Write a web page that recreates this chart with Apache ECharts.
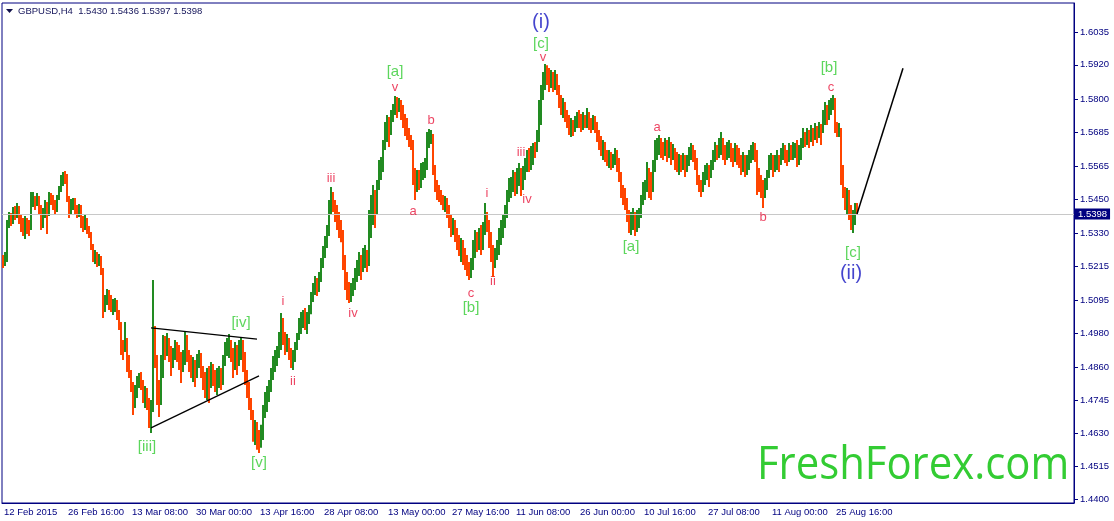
<!DOCTYPE html>
<html><head><meta charset="utf-8">
<script src="https://cdn.jsdelivr.net/npm/echarts@6/dist/echarts.min.js"></script>
<style>html,body{margin:0;padding:0;background:#fff;}#c{width:1114px;height:521px;}</style>
</head><body><div id="c"></div>
<script>
// ---- DATA (prices in 1/10000 units, H4 bars, two source bars per drawn bar) ----
const symbolName = 'GBPUSD,H4';
const headerValues = ['1.5430', '1.5436', '1.5397', '1.5398'];
const xTickLabels = ['12 Feb 2015', '26 Feb 16:00', '13 Mar 08:00', '30 Mar 00:00', '13 Apr 16:00', '28 Apr 08:00', '13 May 00:00', '27 May 16:00', '11 Jun 08:00', '26 Jun 00:00', '10 Jul 16:00', '27 Jul 08:00', '11 Aug 00:00', '25 Aug 16:00'];
const yTickValues = [1.4400, 1.4515, 1.4630, 1.4745, 1.4860, 1.4980, 1.5095, 1.5215, 1.5330, 1.5450, 1.5565, 1.5685, 1.5800, 1.5920, 1.6035];
const lastPrice = 1.5398;

const opens = [
15240,15230,15244,15359,15384,15370,15405,15394,15419,15377,
15359,15342,15370,15356,15349,15447,15454,15433,15454,15419,
15370,15398,15429,15394,15461,15447,15429,15412,15454,15482,
15517,15531,15524,15454,15401,15429,15447,15412,15394,15419,
15377,15352,15377,15349,15324,15289,15244,15254,15230,15244,
15209,15079,15097,15125,15104,15079,15083,15097,15055,15020,
14939,14922,14957,14880,14845,14799,14729,14771,14810,14824,
14803,14754,14775,14733,14677,14712,14957,14887,14764,14747,
14834,14939,14922,14950,14915,14880,14901,14939,14915,14887,
14859,14887,14957,14904,14880,14852,14869,14845,14880,14904,
14852,14817,14789,14834,14810,14852,14824,14799,14824,14845,
14817,14880,14922,14939,14957,14904,14869,14922,14880,14929,
14939,14894,14834,14799,14747,14705,14635,14649,14607,14593,
14642,14694,14740,14754,14789,14834,14859,14887,14915,14939,
14992,14964,14939,14957,14922,14880,14894,14929,14957,14992,
15020,15034,15009,15027,15055,15097,15132,15160,15146,15167,
15219,15254,15289,15335,15412,15464,15429,15405,15377,15356,
15324,15230,15174,15139,15118,15132,15149,15174,15202,15230,
15209,15244,15254,15230,15342,15394,15447,15412,15482,15534,
15559,15622,15674,15699,15685,15734,15755,15779,15769,15790,
15755,15734,15709,15685,15657,15639,15552,15482,15524,15510,
15545,15552,15559,15639,15664,15671,15559,15499,15482,15475,
15454,15436,15447,15412,15377,15349,15359,15324,15307,15279,
15289,15254,15230,15209,15195,15219,15265,15307,15289,15324,
15289,15335,15394,15359,15314,15272,15230,15254,15272,15307,
15342,15370,15394,15447,15482,15499,15517,15489,15524,15552,
15510,15534,15569,15594,15569,15604,15629,15622,15657,15734,
15814,15860,15902,15884,15867,15881,15849,15874,15839,15797,
15769,15779,15744,15720,15699,15709,15692,15720,15734,15727,
15709,15734,15720,15744,15720,15699,15727,15706,15674,15650,
15629,15639,15604,15594,15604,15580,15587,15615,15580,15534,
15482,15464,15447,15394,15359,15370,15384,15349,15377,15394,
15429,15475,15499,15534,15517,15499,15552,15622,15639,15650,
15629,15622,15639,15615,15629,15604,15622,15594,15580,15587,
15569,15587,15559,15580,15604,15629,15604,15580,15524,15499,
15489,15517,15534,15552,15534,15559,15594,15622,15615,15639,
15657,15622,15604,15622,15639,15604,15594,15622,15604,15587,
15569,15587,15559,15580,15594,15615,15629,15604,15545,15517,
15489,15475,15499,15524,15569,15587,15559,15580,15594,15569,
15604,15622,15604,15594,15622,15604,15615,15629,15587,15615,
15639,15664,15657,15674,15657,15685,15664,15692,15674,15699,
15685,15727,15762,15744,15769,15779,15797,15709,15692,15699,
15569,15475,15447,15464,15405,15370,15384,15430
];
const highs = [
15254,15265,15377,15405,15401,15422,15426,15436,15426,15398,
15384,15391,15384,15377,15475,15475,15461,15471,15461,15429,
15419,15447,15440,15475,15471,15464,15447,15464,15496,15534,
15545,15548,15538,15461,15450,15454,15454,15429,15433,15429,
15391,15394,15384,15356,15335,15293,15272,15265,15258,15251,
15184,15114,15135,15132,15114,15100,15104,15097,15062,15009,
14957,15020,14964,14904,14852,14810,14799,14831,14841,14845,
14817,14796,14789,14754,14747,15167,15006,14904,14817,14904,
14974,14971,14981,14964,14936,14929,14957,14950,14939,14915,
14922,14988,14974,14922,14904,14897,14887,14908,14922,14911,
14866,14845,14859,14866,14880,14873,14852,14859,14866,14859,
14904,14950,14964,14978,14957,14929,14950,14939,14957,14967,
14957,14915,14852,14810,14754,14712,14677,14670,14642,14660,
14729,14775,14796,14817,14859,14901,14922,14936,14985,15051,
15034,14985,14978,14964,14929,14922,14950,14981,15034,15055,
15062,15069,15055,15079,15125,15156,15181,15174,15195,15244,
15286,15321,15359,15447,15492,15475,15447,15429,15405,15377,
15342,15254,15195,15160,15156,15174,15209,15237,15265,15254,
15279,15289,15272,15412,15464,15499,15482,15517,15587,15597,
15657,15720,15744,15737,15762,15783,15811,15807,15804,15797,
15779,15748,15734,15699,15674,15657,15559,15552,15552,15576,
15580,15594,15685,15695,15692,15678,15569,15517,15499,15482,
15464,15461,15454,15429,15394,15384,15377,15349,15324,15314,
15307,15279,15254,15230,15244,15307,15342,15335,15349,15359,
15370,15436,15405,15377,15335,15289,15279,15307,15349,15377,
15394,15429,15482,15524,15527,15552,15545,15559,15576,15559,
15566,15594,15622,15629,15636,15646,15650,15692,15797,15849,
15895,15923,15919,15909,15902,15895,15902,15888,15849,15814,
15804,15790,15762,15744,15734,15727,15741,15755,15762,15748,
15755,15744,15769,15755,15734,15744,15741,15720,15692,15671,
15657,15650,15622,15622,15615,15608,15629,15622,15594,15545,
15499,15489,15454,15412,15405,15419,15405,15412,15419,15464,
15510,15517,15580,15559,15545,15587,15657,15664,15674,15664,
15650,15664,15657,15667,15650,15643,15629,15615,15608,15604,
15611,15604,15604,15632,15646,15639,15622,15594,15534,15517,
15545,15569,15576,15569,15587,15622,15650,15639,15664,15685,
15664,15639,15650,15657,15646,15629,15646,15639,15629,15604,
15615,15604,15604,15622,15639,15650,15646,15622,15559,15534,
15517,15524,15552,15604,15611,15604,15604,15622,15604,15629,
15646,15639,15622,15646,15639,15650,15646,15657,15639,15664,
15699,15685,15699,15692,15709,15699,15716,15706,15720,15713,
15762,15790,15779,15797,15804,15814,15804,15720,15716,15692,
15569,15492,15489,15482,15429,15412,15436,15436
];
const lows = [
15209,15216,15230,15349,15356,15363,15377,15384,15363,15335,
15321,15310,15328,15321,15342,15422,15412,15426,15398,15342,
15349,15384,15328,15391,15429,15412,15394,15405,15447,15475,
15496,15503,15440,15384,15394,15412,15394,15384,15387,15349,
15335,15342,15328,15314,15272,15230,15223,15212,15216,15184,
15034,15055,15079,15062,15055,15044,15055,15027,14992,14904,
14887,14915,14845,14824,14775,14694,14719,14754,14789,14782,
14736,14719,14712,14649,14631,14705,14859,14729,14687,14729,
14824,14887,14901,14880,14831,14859,14887,14880,14852,14806,
14845,14869,14880,14845,14824,14810,14792,14824,14859,14824,
14782,14754,14747,14736,14789,14796,14775,14764,14789,14782,
14799,14866,14901,14894,14880,14824,14852,14834,14866,14887,
14845,14799,14754,14712,14677,14600,14589,14572,14561,14579,
14607,14684,14705,14740,14775,14817,14845,14866,14894,14922,
14939,14904,14915,14887,14859,14852,14880,14922,14957,14978,
14999,14992,14978,15013,15047,15090,15114,15111,15125,15160,
15209,15244,15279,15321,15394,15405,15370,15342,15314,15299,
15202,15132,15097,15086,15090,15111,15132,15160,15181,15167,
15195,15209,15195,15216,15314,15359,15349,15394,15510,15517,
15545,15622,15650,15632,15674,15720,15744,15734,15755,15727,
15699,15671,15657,15632,15622,15499,15447,15475,15482,15489,
15517,15524,15552,15629,15643,15534,15475,15447,15440,15429,
15412,15405,15384,15349,15317,15324,15300,15272,15251,15230,
15219,15202,15181,15167,15174,15202,15244,15265,15272,15254,
15272,15324,15335,15279,15230,15177,15209,15237,15254,15289,
15314,15349,15384,15440,15454,15475,15461,15468,15496,15461,
15482,15517,15545,15545,15552,15569,15594,15615,15650,15709,
15797,15832,15849,15825,15839,15825,15832,15814,15769,15744,
15734,15720,15699,15674,15667,15671,15685,15699,15699,15685,
15692,15699,15699,15692,15681,15692,15681,15650,15622,15601,
15587,15580,15566,15559,15552,15559,15569,15545,15510,15454,
15429,15412,15370,15331,15324,15342,15321,15335,15349,15384,
15429,15447,15475,15454,15447,15475,15545,15587,15604,15594,
15587,15601,15580,15594,15569,15587,15552,15545,15534,15545,
15552,15527,15545,15566,15587,15580,15552,15499,15475,15457,
15475,15499,15517,15492,15524,15552,15580,15587,15594,15604,
15587,15569,15587,15594,15580,15562,15580,15569,15559,15534,
15545,15527,15534,15552,15576,15587,15580,15464,15475,15454,
15419,15454,15482,15534,15552,15527,15545,15552,15545,15569,
15587,15576,15566,15580,15587,15587,15594,15562,15569,15587,
15629,15632,15639,15629,15650,15636,15657,15646,15664,15639,
15681,15709,15709,15727,15744,15762,15681,15667,15667,15499,
15454,15412,15394,15377,15342,15331,15359,15397
];
const closes = [
15230,15244,15359,15384,15370,15405,15394,15419,15377,15359,
15342,15370,15356,15349,15447,15454,15433,15454,15419,15370,
15398,15429,15394,15461,15447,15429,15412,15454,15482,15517,
15531,15524,15454,15401,15429,15447,15412,15394,15419,15377,
15352,15377,15349,15324,15289,15244,15254,15230,15244,15209,
15079,15097,15125,15104,15079,15083,15097,15055,15020,14939,
14922,14957,14880,14845,14799,14729,14771,14810,14824,14803,
14754,14775,14733,14677,14712,14957,14887,14764,14747,14834,
14939,14922,14950,14915,14880,14901,14939,14915,14887,14859,
14887,14957,14904,14880,14852,14869,14845,14880,14904,14852,
14817,14789,14834,14810,14852,14824,14799,14824,14845,14817,
14880,14922,14939,14957,14904,14869,14922,14880,14929,14939,
14894,14834,14799,14747,14705,14635,14649,14607,14593,14642,
14694,14740,14754,14789,14834,14859,14887,14915,14939,14992,
14964,14939,14957,14922,14880,14894,14929,14957,14992,15020,
15034,15009,15027,15055,15097,15132,15160,15146,15167,15219,
15254,15289,15335,15412,15464,15429,15405,15377,15356,15324,
15230,15174,15139,15118,15132,15149,15174,15202,15230,15209,
15244,15254,15230,15342,15394,15447,15412,15482,15534,15559,
15622,15674,15699,15685,15734,15755,15779,15769,15790,15755,
15734,15709,15685,15657,15639,15552,15482,15524,15510,15545,
15552,15559,15639,15664,15671,15559,15499,15482,15475,15454,
15436,15447,15412,15377,15349,15359,15324,15307,15279,15289,
15254,15230,15209,15195,15219,15265,15307,15289,15324,15289,
15335,15394,15359,15314,15272,15230,15254,15272,15307,15342,
15370,15394,15447,15482,15499,15517,15489,15524,15552,15510,
15534,15569,15594,15569,15604,15629,15622,15657,15734,15814,
15860,15902,15884,15867,15881,15849,15874,15839,15797,15769,
15779,15744,15720,15699,15709,15692,15720,15734,15727,15709,
15734,15720,15744,15720,15699,15727,15706,15674,15650,15629,
15639,15604,15594,15604,15580,15587,15615,15580,15534,15482,
15464,15447,15394,15359,15370,15384,15349,15377,15394,15429,
15475,15499,15534,15517,15499,15552,15622,15639,15650,15629,
15622,15639,15615,15629,15604,15622,15594,15580,15587,15569,
15587,15559,15580,15604,15629,15604,15580,15524,15499,15489,
15517,15534,15552,15534,15559,15594,15622,15615,15639,15657,
15622,15604,15622,15639,15604,15594,15622,15604,15587,15569,
15587,15559,15580,15594,15615,15629,15604,15545,15517,15489,
15475,15499,15524,15569,15587,15559,15580,15594,15569,15604,
15622,15604,15594,15622,15604,15615,15629,15587,15615,15639,
15664,15657,15674,15657,15685,15664,15692,15674,15699,15685,
15727,15762,15744,15769,15779,15797,15709,15692,15699,15569,
15475,15447,15464,15405,15370,15384,15430,15398
];

// Elliott-wave annotations: [text, bar index, price level]
const waveGreen = [['[iii]',72,1.4582],['[iv]',119,1.5016],['[v]',128,1.4526],['[a]',196,1.5894],['[b]',234,1.5068],['[c]',269,1.5992],['[a]',314,1.5282],['[b]',413,1.5908],['[c]',425,1.5261]];
const waveBlue = [['(i)',269,1.6069],['(ii)',424,1.5188]];
const waveRed = [['i',140,1.5090],['ii',145,1.4810],['iii',164,1.5524],['iv',175,1.5051],['v',196,1.5842],['a',205,1.5408],['b',214,1.5727],['c',234,1.5121],['i',242,1.5471],['ii',245,1.5163],['iii',259,1.5615],['iv',262,1.5450],['v',270,1.5947],['a',327,1.5702],['b',380,1.5387],['c',414,1.5842]];
const triangleUpper = [[74,1.4999],[127,1.4960]];
const triangleLower = [[74,1.4649],[128,1.4831]];
const projection = [[427,1.5398],[450,1.5908]];

// ---- CHART ----
const UP = '#228B22', DOWN = '#FF4500', DOJI = '#000000';
const NAVY = '#000080';
const totalSlots = 536;
const cats = [];
for (let i = 0; i < totalSlots; i++) cats.push(String(i));
const bars = closes.map((c, i) => [i, opens[i] / 1e4, highs[i] / 1e4, lows[i] / 1e4, c / 1e4]);
const toPts = arr => arr.map(a => ({ name: a[0], value: [a[1], a[2]] }));

const chart = echarts.init(document.getElementById('c'), null, { renderer: 'canvas' });
const labelSeries = (arr, color, size) => ({
  type: 'scatter', data: toPts(arr), symbol: 'circle', symbolSize: 1, z: 10,
  itemStyle: { color: 'rgba(0,0,0,0)' }, silent: true,
  label: { show: true, position: 'inside', formatter: p => p.name, color: color,
    fontSize: size, fontFamily: 'Liberation Sans' }
});
chart.setOption({
  animation: false,
  backgroundColor: '#ffffff',
  grid: { left: 2, right: 40, top: 3, bottom: 18, show: true, borderColor: NAVY, borderWidth: 1, backgroundColor: 'transparent' },
  xAxis: {
    type: 'category', data: cats, boundaryGap: true,
    axisLine: { lineStyle: { color: NAVY } },
    axisTick: { alignWithLabel: true, interval: (i) => i % 32 === 0 && i / 32 < xTickLabels.length, length: 4, lineStyle: { color: NAVY } },
    axisLabel: { interval: (i) => i % 32 === 0 && i / 32 < xTickLabels.length, formatter: (v, i) => xTickLabels[i / 32] || '',
      align: 'left', margin: 4, color: NAVY, fontSize: 9.5, fontFamily: 'Liberation Sans', padding: [0, 0, 0, 1] },
    splitLine: { show: false }
  },
  yAxis: {
    type: 'value', position: 'right', min: 1.43860, max: 1.61365, scale: true,
    axisLine: { show: true, lineStyle: { color: NAVY } },
    axisTick: { show: true, customValues: yTickValues, length: 4, lineStyle: { color: NAVY } },
    axisLabel: { customValues: yTickValues, formatter: v => v.toFixed(4), color: NAVY, fontSize: 9.5, fontFamily: 'Liberation Sans', margin: 6, align: 'left' },
    splitLine: { show: false }
  },
  series: [
    {
      type: 'custom', data: bars, encode: { x: 0, y: [1, 2, 3, 4] }, z: 2,
      renderItem: function (params, api) {
        const i = api.value(0), o = api.value(1), h = api.value(2), l = api.value(3), c = api.value(4);
        const pH = api.coord([i, h]), pL = api.coord([i, l]), pO = api.coord([i, o]), pC = api.coord([i, c]);
        const w = api.size([1, 0])[0];
        const col = c > o ? UP : (c < o ? DOWN : DOJI);
        return { type: 'group', children: [
          { type: 'rect', shape: { x: pH[0] - w / 2, y: pH[1], width: w, height: Math.max(1, pL[1] - pH[1]) }, style: { fill: col } },
          { type: 'rect', shape: { x: pO[0] - w / 2, y: Math.min(pO[1], pC[1]), width: w, height: Math.max(1, Math.abs(pC[1] - pO[1])) }, style: { fill: col } }
        ] };
      },
      markLine: {
        silent: true, symbol: 'none', precision: 4,
        lineStyle: { color: '#c8c8c8', type: 'solid', width: 1 },
        label: { show: true, position: 'end', distance: 1, formatter: () => lastPrice.toFixed(4), color: '#ffffff', backgroundColor: NAVY,
          padding: [1, 3, 0, 3], fontSize: 9.5, fontFamily: 'Liberation Sans' },
        data: [{ yAxis: lastPrice }]
      }
    },
    { type: 'line', data: triangleUpper, symbol: 'none', silent: true, z: 5, lineStyle: { color: '#000', width: 1.3 } },
    { type: 'line', data: triangleLower, symbol: 'none', silent: true, z: 5, lineStyle: { color: '#000', width: 1.3 } },
    { type: 'line', data: projection, symbol: 'none', silent: true, z: 5, lineStyle: { color: '#000', width: 1.5 } },
    labelSeries(waveGreen, '#33CC33', 15),
    labelSeries(waveBlue, '#1515C0', 20),
    labelSeries(waveRed, '#E8173C', 13)
  ],
  graphic: [
    { type: 'polygon', shape: { points: [[6, 9], [13, 9], [9.5, 13]] }, style: { fill: '#10104a' } },
    { type: 'text', x: 18, y: 11, style: { text: symbolName + '  ' + headerValues.join(' '), font: '9.5px "Liberation Sans"', fill: '#14145a', verticalAlign: 'middle' } },
    { type: 'text', x: 757, y: 443, scaleX: 0.91, z: 1, style: { text: 'FreshForex.com', font: '46px "Open Sans"', fill: '#33CC33', verticalAlign: 'top' } }
  ]
});
</script></body></html>
